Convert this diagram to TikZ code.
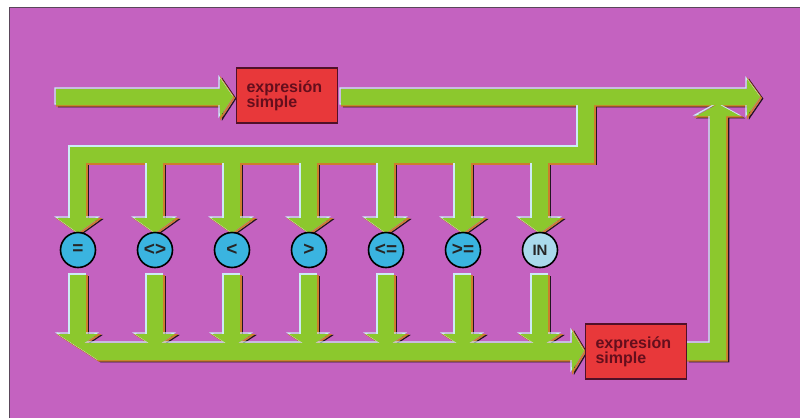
\documentclass[tikz,border=0pt]{standalone}
\usepackage{fontspec}
\setmainfont{Liberation Sans}
\usetikzlibrary{calc}
\pgfdeclarelayer{page}
\pgfdeclarelayer{back}
\pgfsetlayers{page,back,main}
\definecolor{bg}{RGB}{196,98,192}
\definecolor{grn}{RGB}{140,200,45}
\definecolor{redbox}{RGB}{232,56,58}
\definecolor{boxline}{RGB}{80,16,40}
\definecolor{boxtext}{RGB}{100,14,28}
\definecolor{cir}{RGB}{58,180,224}
\definecolor{cirpale}{RGB}{170,218,236}
\definecolor{edgeblk}{RGB}{35,20,35}
\definecolor{edgeorg}{RGB}{205,125,45}
\definecolor{edgecyan}{RGB}{205,235,245}
\definecolor{frame}{RGB}{90,70,90}
\tikzset{
  exbox/.style={draw=boxline, line width=1.5pt, fill=redbox, text=boxtext,
    font=\fontsize{16}{15}\selectfont\bfseries, align=left, text width=81pt,
    inner xsep=10pt, inner ysep=0pt, minimum height=55pt},
  opcirc/.style={circle, draw=black, line width=1.6pt, fill=cir, minimum size=35pt,
    inner sep=0pt, font=\fontsize{19}{19}\selectfont\bfseries, text=black!85},
  blk/.style={draw=edgeblk, line width=1.3pt, shift={(2.6,1.6)}},
  org/.style={draw=edgeorg, line width=1.6pt, shift={(1,0.8)}},
  cyn/.style={draw=edgecyan, line width=1.2pt, shift={(-1,-1)}},
  grnfill/.style={fill=grn},
}
\newcommand\netpieces[1]{%
  % entry arrow into first box
  \path[#1] (56,89) -- (220,89) -- (220,78) -- (233,97) -- (220,117) -- (220,105) -- (56,105) -- cycle;
  % exit line from first box
  \path[#1] (341,89) -- (747,89) -- (747,79) -- (760,97) -- (747,116) -- (747,105) -- (341,105) -- cycle;
  % branch down and distribution bar
  \path[#1] (578,100) rectangle (594,155);
  \path[#1] (70,147) rectangle (594,163);
  \foreach \x in {78,155,232,309,386,463,540}{
    \path[#1] (\x-8,155) rectangle (\x+8,219);
    \path[#1] (\x-21,218) -- (\x+21,218) -- (\x,233) -- cycle;
    \path[#1] (\x-8,275) rectangle (\x+8,335);
    \path[#1] (\x-20,334) -- (\x+20,334) -- (\x,347) -- cycle;
  }
  % collecting bar into second box
  \path[#1] (58,334) -- (98,360) -- (572,360) -- (572,371) -- (584,351) -- (572,331) -- (572,343) -- (78,343) -- cycle;
  % return from second box up to exit line
  \path[#1] (687,343) -- (710,343) -- (710,116) -- (696,116) -- (718,104) -- (740,116) -- (726,116) -- (726,360) -- (687,360) -- cycle;
}
\begin{document}
\begin{tikzpicture}[x=1pt,y=-1pt]
\useasboundingbox (0,0) rectangle (800,418);
\begin{pgfonlayer}{page}
  \fill[white] (0,0) rectangle (800,418);
  \fill[bg] (9,7) rectangle (800,418);
  \draw[frame, line width=0.9pt] (9,418) -- (9,7) -- (800,7);
\end{pgfonlayer}

\node[exbox] (e1) at (287,95.5) {expresión\\simple};
\node[exbox] (e2) at (636,351.5) {expresión\\simple};
\foreach \x/\t [count=\i] in {78/{=},155/{<>},232/{<},309/{>},386/{<=},463/{>=}}{
  \node[opcirc] (c\i) at (\x,250) {\t};
}
\node[opcirc, fill=cirpale, font=\fontsize{15}{15}\selectfont\bfseries] (c7) at (540,250) {IN};
\coordinate (start) at (56,97);
\coordinate (exit) at (760,97);

\begin{pgfonlayer}{back}
  \netpieces{blk}
  \netpieces{org}
  \netpieces{cyn}
  \netpieces{grnfill}
\end{pgfonlayer}
\end{tikzpicture}
\end{document}
